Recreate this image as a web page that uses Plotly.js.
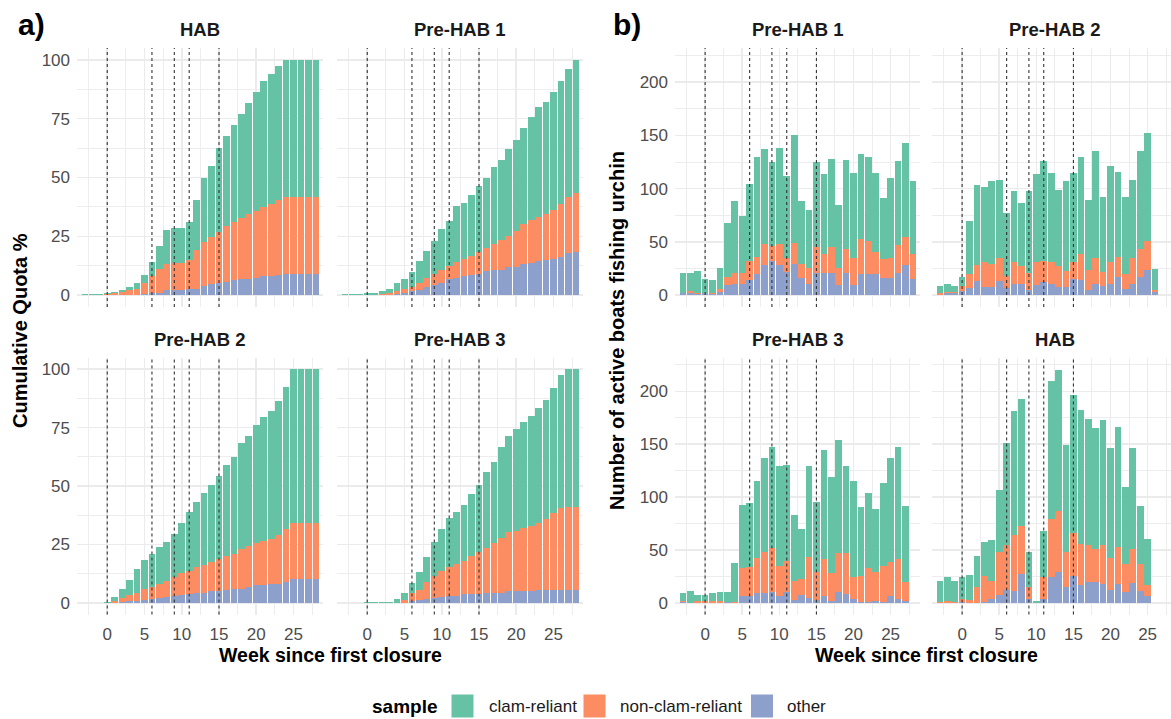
<!DOCTYPE html>
<html>
<head>
<meta charset="utf-8">
<script src="https://cdn.plot.ly/plotly-3.0.1.min.js"></script>
<style>
  html, body { margin: 0; padding: 0; background: #ffffff; width: 1171px; height: 719px; overflow: hidden; }
  #chart { width: 1180px; height: 719px; }
</style>
</head>
<body>
<div id="chart"></div>
<script>
// Weeks since the first closure (x categories)
const weeks = [-3,-2,-1,0,1,2,3,4,5,6,7,8,9,10,11,12,13,14,15,16,17,18,19,20,21,22,23,24,25,26,27,28];
// Weeks where closures were put in place (dotted reference lines)
const closureWeeks = [0, 6, 9, 11, 15];

const groupNames = ['other', 'non-clam-reliant', 'clam-reliant'];
const groupColors = ['#8da0cb', '#fc8d62', '#66c2a5'];

// ---- a) cumulative quota (%) by sample, stacked ----
const quotaHAB_other    = [0,0,0,0,0,0,0.1,0.1,0.4,1.1,1.1,2.1,2.1,2.1,2.6,2.8,4.0,4.7,5.1,5.8,6.5,6.8,7.1,7.5,8.0,8.0,8.5,9.0,9.0,9.0,9.0,9.0];
const quotaHAB_nonClam  = [0,0,0,0.5,1.0,1.2,2.0,2.5,4.6,6.9,10.0,11.1,11.8,11.8,12.3,16.4,18.8,20.2,21.9,23.5,24.8,26.1,27.2,28.2,29.4,30.7,31.8,32.7,32.7,32.7,32.7,32.7];
const quotaHAB_clam     = [0.4,0.4,0.4,0.4,0.5,0.9,1.2,2.5,3.5,6.2,9.7,14.5,14.5,14.5,16.4,21.3,27.1,30.0,35.6,38.4,41.0,44.1,47.5,50.5,53.4,55.2,56.9,58.0,58.3,58.3,58.3,58.3];

const quotaPre1_other   = [0,0,0,0,0,0,0.3,0.7,0.9,1.6,2.1,3.3,4.3,5.4,6.8,7.3,8.0,8.5,9.2,10.4,10.8,10.8,12.1,12.1,13.2,13.9,14.4,14.9,15.4,16.1,17.8,18.5];
const quotaPre1_nonClam = [0,0,0,0,0,0.5,0.8,1.1,1.7,1.7,3.0,4.0,4.7,5.3,5.7,6.9,7.4,8.0,9.3,9.7,11.0,12.8,13.2,15.1,17.1,18.2,19.0,19.7,20.9,22.7,23.9,24.9];
const quotaPre1_clam    = [0.4,0.4,0.4,1.1,1.1,1.1,1.7,3.2,4.2,6.4,9.3,11.6,14.2,17.5,19.2,23.5,23.9,26.2,27.7,29.7,32.7,33.7,36.6,38.9,40.8,43.7,46.4,47.6,49.9,52.0,54.3,56.6];

const quotaPre2_other   = [0,0,0,0,0,0.4,0.7,0.9,1.4,1.6,1.9,2.6,3.0,3.3,3.7,4.3,4.4,5.0,5.0,5.4,6.1,6.1,6.9,7.6,7.6,7.9,7.9,9.0,10.4,10.4,10.4,10.4];
const quotaPre2_nonClam = [0,0,0,0,0.7,1.5,2.6,3.4,4.7,5.0,6.0,6.8,8.1,9.3,10.0,11.1,12.0,12.3,13.6,14.6,15.0,16.9,17.4,17.8,18.8,19.4,21.1,22.4,23.9,23.9,23.9,23.9];
const quotaPre2_clam    = [0,0,0,0.4,1.9,4.2,6.4,10.0,12.2,14.1,15.8,16.5,18.3,21.4,25.0,27.9,30.5,33.1,35.8,39.0,41.5,45.6,47.3,50.7,53.3,54.6,57.4,60.9,65.7,65.7,65.7,65.7];

const quotaPre3_other   = [0,0,0,0,0,0,0,0,0,0.7,1.1,1.6,1.9,2.3,2.9,3.0,3.6,3.7,3.7,4.3,4.3,4.4,5.0,5.0,5.0,5.0,5.4,5.4,5.4,5.4,5.4,5.4];
const quotaPre3_nonClam = [0,0,0,0,0,0,0,0,1.0,3.3,4.6,7.1,9.7,11.3,12.5,13.6,14.3,16.4,18.2,19.3,21.1,23.5,25.1,25.7,26.9,27.9,28.9,30.5,32.9,35.0,35.7,35.7];
const quotaPre3_clam    = [0,0,0,0.4,0.4,0.4,0.5,1.6,3.4,4.6,7.6,11.0,14.5,17.8,21.0,22.1,24.0,26.3,28.5,32.5,35.0,39.0,41.3,43.6,45.4,47.2,49.0,50.7,53.6,57.2,58.9,58.9];

// ---- b) number of active boats fishing urchin by sample, stacked ----
const boatsPre1_other   = [2,2,1,2,1,3,10,11,11,14,20,28,32,28,22,29,16,11,21,21,21,10,21,10,20,20,20,16,16,21,28,15];
const boatsPre1_nonClam = [0,2,1,0,1,3,7,10,10,18,16,20,14,20,13,20,13,15,24,18,24,16,22,25,33,31,21,18,19,26,27,24];
const boatsPre1_clam    = [19,17,21,13,12,20,51,67,53,72,94,89,79,90,77,101,59,54,80,75,83,59,84,80,80,79,74,57,75,79,88,68];

const boatsPre2_other   = [0,2,2,4,7,13,8,8,13,7,11,11,5,10,12,11,8,8,15,14,5,11,9,11,17,6,11,17,24,3];
const boatsPre2_nonClam = [2,1,1,5,13,15,23,21,22,11,20,16,16,21,20,20,19,15,16,25,19,24,13,20,19,14,24,26,27,2];
const boatsPre2_clam    = [7,8,6,8,50,75,71,78,73,59,67,60,77,83,94,84,72,84,84,91,65,100,70,90,80,72,73,92,101,20];

const boatsPre3_other   = [1,0,0,0,0,0,1,0,6,6,9,9,10,6,10,3,7,5,3,6,2,10,8,4,1,1,2,1,6,4,2];
const boatsPre3_nonClam = [1,0,2,2,2,2,0,1,27,28,33,39,42,29,30,18,16,38,26,35,26,37,39,20,24,32,27,34,33,37,18];
const boatsPre3_clam    = [7,11,5,5,7,8,9,37,60,60,73,89,95,94,90,62,47,86,66,104,91,107,82,91,66,71,60,78,98,106,72];

const boatsHAB_other    = [0,0,0,1,0,0,1,4,7,12,11,27,4,0,4,24,29,15,25,17,20,20,18,12,18,10,19,11,6];
const boatsHAB_nonClam  = [1,2,1,3,3,15,24,17,41,43,53,46,11,0,20,55,58,33,41,39,35,31,37,30,35,27,32,26,11];
const boatsHAB_clam     = [20,22,20,20,23,29,33,38,59,96,117,120,33,2,44,131,133,101,131,126,119,114,118,104,113,73,95,55,43];

// ---- page geometry (pixels) ----
const W = 1180, H = 719;
const px = v => v / W;
const py = v => 1 - v / H;
const FONT = '"Liberation Sans", Arial, Helvetica, sans-serif';

const colA = [[77, 323], [337, 583]];
const colB = [[675, 920], [932, 1177]];
const rowsY = [[48, 307], [357.5, 614.5]];

const panels = [
  { title: 'HAB',       series: [quotaHAB_other, quotaHAB_nonClam, quotaHAB_clam],    xs: colA[0], ys: rowsY[0], kind: 'quota', left: true,  bottom: false },
  { title: 'Pre-HAB 1', series: [quotaPre1_other, quotaPre1_nonClam, quotaPre1_clam], xs: colA[1], ys: rowsY[0], kind: 'quota', left: false, bottom: false },
  { title: 'Pre-HAB 2', series: [quotaPre2_other, quotaPre2_nonClam, quotaPre2_clam], xs: colA[0], ys: rowsY[1], kind: 'quota', left: true,  bottom: true },
  { title: 'Pre-HAB 3', series: [quotaPre3_other, quotaPre3_nonClam, quotaPre3_clam], xs: colA[1], ys: rowsY[1], kind: 'quota', left: false, bottom: true },
  { title: 'Pre-HAB 1', series: [boatsPre1_other, boatsPre1_nonClam, boatsPre1_clam], xs: colB[0], ys: rowsY[0], kind: 'boats', left: true,  bottom: false },
  { title: 'Pre-HAB 2', series: [boatsPre2_other, boatsPre2_nonClam, boatsPre2_clam], xs: colB[1], ys: rowsY[0], kind: 'boats', left: false, bottom: false },
  { title: 'Pre-HAB 3', series: [boatsPre3_other, boatsPre3_nonClam, boatsPre3_clam], xs: colB[0], ys: rowsY[1], kind: 'boats', left: true,  bottom: true },
  { title: 'HAB',       series: [boatsHAB_other, boatsHAB_nonClam, boatsHAB_clam],    xs: colB[1], ys: rowsY[1], kind: 'boats', left: false, bottom: true }
];

const GRID = '#ebebeb';
const tickFont = { family: FONT, size: 17, color: '#4d4d4d' };
const traces = [];
const shapes = [];
const annotations = [];
const layout = {
  width: W, height: H,
  margin: { l: 0, r: 0, t: 0, b: 0 },
  paper_bgcolor: '#ffffff', plot_bgcolor: '#ffffff',
  barmode: 'stack', bargap: 0.1,
  showlegend: false,
  font: { family: FONT }
};

panels.forEach((p, i) => {
  const k = i + 1;
  const xa = 'xaxis' + (k === 1 ? '' : k);
  const ya = 'yaxis' + (k === 1 ? '' : k);
  const xr = 'x' + (k === 1 ? '' : k);
  const yr = 'y' + (k === 1 ? '' : k);

  p.series.forEach((vals, g) => {
    traces.push({
      type: 'bar', x: weeks.slice(0, vals.length), y: vals,
      xaxis: xr, yaxis: yr, name: groupNames[g],
      marker: { color: groupColors[g], line: { width: 0 } },
      hoverinfo: 'skip', showlegend: false
    });
  });

  layout[xa] = {
    domain: [px(p.xs[0]), px(p.xs[1])], anchor: yr,
    range: [-4.06, 28.96], tickmode: 'linear', tick0: 0, dtick: 5,
    showgrid: true, gridcolor: GRID, gridwidth: 1.6,
    minor: { dtick: 2.5, showgrid: true, gridcolor: GRID, gridwidth: 0.9 },
    zeroline: false, showline: false, ticks: '',
    showticklabels: p.bottom, tickfont: tickFont, ticklabelstandoff: 7,
    fixedrange: true
  };
  const quota = p.kind === 'quota';
  layout[ya] = {
    domain: [py(p.ys[1]), py(p.ys[0])], anchor: xr,
    range: quota ? [-5, 105] : [-11.05, 232.05],
    tickmode: 'linear', tick0: 0, dtick: quota ? 25 : 50,
    showgrid: true, gridcolor: GRID, gridwidth: 1.6,
    minor: { dtick: quota ? 12.5 : 25, showgrid: true, gridcolor: GRID, gridwidth: 0.9 },
    zeroline: false, showline: false, ticks: '',
    showticklabels: p.left, tickfont: tickFont, ticklabelstandoff: 6,
    fixedrange: true
  };

  closureWeeks.forEach(w => {
    shapes.push({
      type: 'line', xref: xr, yref: yr + ' domain',
      x0: w, x1: w, y0: 0, y1: 1,
      line: { color: '#333333', width: 1.1, dash: 'dot' }, layer: 'above'
    });
  });

  annotations.push({
    text: '<b>' + p.title + '</b>', xref: 'paper', yref: 'paper',
    x: px((p.xs[0] + p.xs[1]) / 2), y: py(p.ys[0] - 18),
    xanchor: 'center', yanchor: 'middle', showarrow: false,
    font: { family: FONT, size: 18.5, color: '#1a1a1a' }
  });
});

// panel tags
[['a)', 31], ['b)', 627]].forEach(([t, x]) => annotations.push({
  text: '<b>' + t + '</b>', xref: 'paper', yref: 'paper', x: px(x), y: py(24),
  xanchor: 'center', yanchor: 'middle', showarrow: false,
  font: { family: FONT, size: 30, color: '#000000' }
}));

// axis titles
const titleFont = { family: FONT, size: 20, color: '#000000' };
annotations.push({ text: '<b>Cumulative Quota %</b>', xref: 'paper', yref: 'paper', x: px(20), y: py(331),
  textangle: -90, xanchor: 'center', yanchor: 'middle', showarrow: false, font: titleFont });
annotations.push({ text: '<b>Number of active boats fishing urchin</b>', xref: 'paper', yref: 'paper', x: px(617), y: py(331),
  textangle: -90, xanchor: 'center', yanchor: 'middle', showarrow: false, font: titleFont });
const xTitleFont = { family: FONT, size: 19.5, color: '#000000' };
annotations.push({ text: '<b>Week since first closure</b>', xref: 'paper', yref: 'paper', x: px(330), y: py(655),
  xanchor: 'center', yanchor: 'middle', showarrow: false, font: xTitleFont });
annotations.push({ text: '<b>Week since first closure</b>', xref: 'paper', yref: 'paper', x: px(926), y: py(655),
  xanchor: 'center', yanchor: 'middle', showarrow: false, font: xTitleFont });

// legend
const legendY = 706;
annotations.push({ text: '<b>sample</b>', xref: 'paper', yref: 'paper', x: px(370), y: py(legendY),
  xanchor: 'left', yanchor: 'middle', showarrow: false, font: { family: FONT, size: 19, color: '#000000' } });
const legendKeys = [
  { g: 2, x: 451.5, tx: 486.5 },
  { g: 1, x: 583.5, tx: 618 },
  { g: 0, x: 751,   tx: 785 }
];
legendKeys.forEach(k => {
  shapes.push({ type: 'rect', xref: 'paper', yref: 'paper',
    x0: px(k.x), x1: px(k.x + 22), y0: py(legendY + 11.5), y1: py(legendY - 11.5),
    fillcolor: groupColors[k.g], line: { width: 0 }, layer: 'above' });
  annotations.push({ text: groupNames[k.g], xref: 'paper', yref: 'paper', x: px(k.tx), y: py(legendY),
    xanchor: 'left', yanchor: 'middle', showarrow: false, font: { family: FONT, size: 17, color: '#1a1a1a' } });
});

layout.shapes = shapes;
layout.annotations = annotations;

Plotly.newPlot('chart', traces, layout, { staticPlot: true, displayModeBar: false });
</script>
</body>
</html>
